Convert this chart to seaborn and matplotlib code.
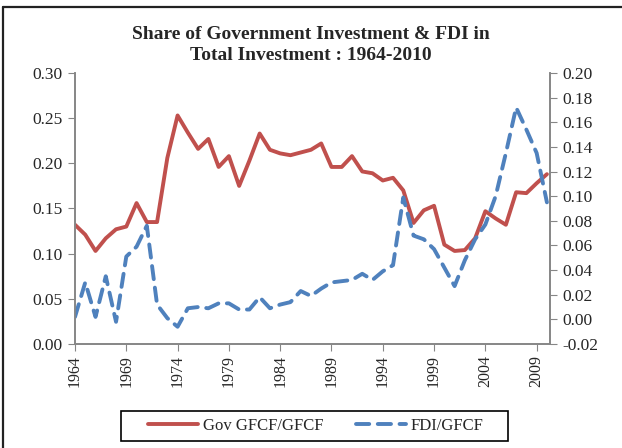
import matplotlib
matplotlib.use("Agg")
import matplotlib.pyplot as plt
import seaborn as sns
import pandas as pd
from matplotlib.lines import Line2D
from matplotlib.patches import Rectangle
from matplotlib.ticker import MultipleLocator, FixedLocator

years = list(range(1964, 2011))
gov_gfcf = [0.132, 0.121, 0.103, 0.117, 0.127, 0.130, 0.156, 0.135, 0.135, 0.206,
            0.253, 0.234, 0.216, 0.227, 0.196, 0.208, 0.175, 0.203, 0.233, 0.215,
            0.211, 0.209, 0.212, 0.215, 0.222, 0.196, 0.196, 0.208, 0.191, 0.189,
            0.181, 0.184, 0.170, 0.134, 0.148, 0.153, 0.110, 0.103, 0.104, 0.117,
            0.147, 0.139, 0.132, 0.168, 0.167, 0.178, 0.188]
fdi_gfcf = [0.002, 0.030, 0.002, 0.035, -0.002, 0.051, 0.059, 0.076, 0.012, 0.001,
            -0.006, 0.009, 0.010, 0.009, 0.013, 0.013, 0.008, 0.008, 0.018, 0.009,
            0.012, 0.014, 0.023, 0.019, 0.025, 0.030, 0.031, 0.032, 0.037, 0.032,
            0.039, 0.044, 0.099, 0.068, 0.065, 0.057, 0.042, 0.027, 0.048, 0.065,
            0.077, 0.100, 0.135, 0.172, 0.154, 0.135, 0.095]
title = "Share of Government Investment & FDI in\nTotal Investment : 1964-2010"
label_gov = "Gov GFCF/GFCF"
label_fdi = "FDI/GFCF"

df = pd.DataFrame({"year": years, "gov": gov_gfcf, "fdi": fdi_gfcf})

sns.set_style("white")
plt.rcParams["font.family"] = ["Liberation Serif", "DejaVu Serif"]

red = "#C0504D"
blue = "#4F81BD"
spine_c = "#868686"

fig = plt.figure(figsize=(6.22, 4.48), dpi=100)
ax = fig.add_axes([75/622, 1-344/448, (550-75)/622, (344-73)/448])
ax2 = ax.twinx()

sns.lineplot(data=df, x="year", y="gov", ax=ax, color=red, lw=2.8, legend=False)
sns.lineplot(data=df, x="year", y="fdi", ax=ax2, color=blue, lw=2.8, legend=False)
ax2.lines[0].set_dashes((3.4, 2.2))
ax2.lines[0].set_dash_capstyle("round")
ax.lines[0].set_solid_capstyle("round")

ax.set_xlim(1964, 2010.3)
ax.set_ylim(0, 0.30)
ax2.set_ylim(-0.02, 0.20)
ax.yaxis.set_major_locator(MultipleLocator(0.05))
ax2.yaxis.set_major_locator(MultipleLocator(0.02))
ax.yaxis.set_major_formatter(matplotlib.ticker.FormatStrFormatter("%.2f"))
ax2.yaxis.set_major_formatter(matplotlib.ticker.FormatStrFormatter("%.2f"))
ax.xaxis.set_major_locator(FixedLocator(list(range(1964, 2011, 5))))
ax.xaxis.set_minor_locator(FixedLocator(years))
ax.set_xlabel("")
ax.set_ylabel("")
ax2.set_ylabel("")

for a in (ax, ax2):
    for s in a.spines.values():
        s.set_color(spine_c)
        s.set_linewidth(1.2)
    a.spines["top"].set_visible(False)

ax.tick_params(axis="x", which="major", direction="out", length=5, color=spine_c,
               labelsize=11.5, labelrotation=90, pad=3)
ax.tick_params(axis="x", which="minor", direction="out", length=5, color=spine_c)
ax.tick_params(axis="y", direction="out", length=5, color=spine_c, labelsize=12.5, pad=4)
ax2.tick_params(axis="y", direction="out", length=5, color=spine_c, labelsize=12.5, pad=4)
ax.tick_params(left=True, bottom=True)
ax2.tick_params(right=True)
for lab in ax.get_xticklabels():
    lab.set_verticalalignment("top")

fig.text(0.5, 1-45/448, title, ha="center", va="center", fontsize=14,
         fontweight="bold", linespacing=1.35)

handles = [Line2D([0], [0], color=red, lw=2.8, solid_capstyle="round"),
           Line2D([0], [0], color=blue, lw=2.8, dashes=(3.4, 2.2), dash_capstyle="round")]
leg = fig.legend(handles, [label_gov, label_fdi], loc="center",
                 bbox_to_anchor=(316/622, 1-426/448), ncol=2, frameon=False,
                 fontsize=12, handlelength=3.0, columnspacing=1.9, handletextpad=0.3,
                 borderpad=0.2, borderaxespad=0)

# legend box as drawn in the reference (wider than its contents)
fig.add_artist(Rectangle((121/622, 1-441/448), (508-121)/622, 30/448,
                         transform=fig.transFigure, fill=False,
                         edgecolor="black", lw=1.2))

# outer chart-area border (left and top visible in the reference)
fig.add_artist(Line2D([3/622, 3/622], [0, 1-7/448], color="#222222", lw=1.6,
                      transform=fig.transFigure))
fig.add_artist(Line2D([3/622, 1], [1-7/448, 1-7/448], color="#222222", lw=1.6,
                      transform=fig.transFigure))

fig.savefig("out.png", dpi=100)
